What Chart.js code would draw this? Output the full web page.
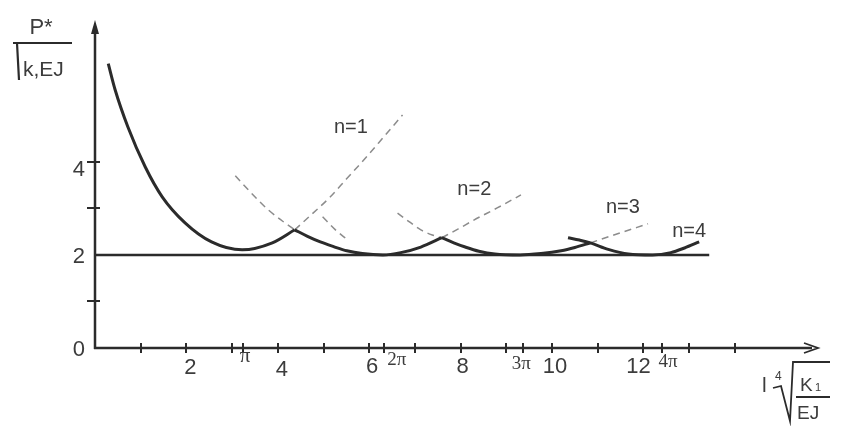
<!DOCTYPE html>
<html>
<head>
<meta charset="utf-8">
<script src="https://cdn.jsdelivr.net/npm/chart.js@4/dist/chart.umd.min.js"></script>
<style>
  body { margin: 0; background: #fff; }
  canvas { display: block; }
</style>
</head>
<body>
<canvas id="chart" width="845" height="426"></canvas>
<script>
// Values (x = l*(k1/EJ)^(1/4), y = P*/sqrt(k1 EJ))
const baseX = [0, 13.44];
const baseY = [2, 2];

// solid envelope, one piece per buckling mode
const n1SolidX = [0.29, 0.44, 0.72, 1.10, 1.47, 1.97, 2.55, 3.22, 3.88, 4.37];
const n1SolidY = [6.11, 5.55, 4.75, 3.89, 3.25, 2.69, 2.28, 2.11, 2.26, 2.54];
const n2SolidX = [4.37, 4.65, 4.93, 5.22, 5.51, 5.85, 6.30, 6.69, 7.13, 7.59];
const n2SolidY = [2.54, 2.40, 2.28, 2.18, 2.09, 2.03, 2.00, 2.05, 2.17, 2.37];
const n3SolidX = [7.59, 7.85, 8.10, 8.40, 8.75, 9.30, 9.76, 10.20, 10.50, 10.84];
const n3SolidY = [2.37, 2.26, 2.17, 2.08, 2.02, 2.00, 2.03, 2.09, 2.16, 2.26];
const n4SolidX = [10.35, 10.60, 10.84, 11.23, 11.67, 12.20, 12.60, 12.90, 13.22];
const n4SolidY = [2.37, 2.32, 2.26, 2.12, 2.02, 2.00, 2.05, 2.15, 2.28];

// dashed continuations
const n1DashX = [4.37, 4.75, 5.15, 5.50, 5.88, 6.32, 6.73];
const n1DashY = [2.54, 2.88, 3.25, 3.63, 4.04, 4.54, 5.01];
const n2DashLeftX = [3.07, 3.45, 3.79, 4.10, 4.37];
const n2DashLeftY = [3.70, 3.30, 2.97, 2.73, 2.54];
const n2DashRightX = [7.59, 7.95, 8.29, 8.80, 9.32];
const n2DashRightY = [2.37, 2.56, 2.75, 3.01, 3.29];
const n3DashShortX = [4.98, 5.25, 5.53];
const n3DashShortY = [2.82, 2.55, 2.32];
const n3DashLeftX = [6.62, 6.88, 7.13, 7.38, 7.59];
const n3DashLeftY = [2.90, 2.71, 2.54, 2.43, 2.37];
const n3DashRightX = [10.84, 11.45, 12.10];
const n3DashRightY = [2.26, 2.46, 2.67];

// axis ticks
const xTickVals = [1, 2, 3, 3.24, 4, 5, 6, 6.32, 7, 8, 9, 9.37, 10, 11, 12, 12.41, 13, 14];
const xLabelVals = [2, 3.24, 4, 6, 6.32, 8, 9.37, 10, 12, 12.41];
const xLabelText = ['2', 'π', '4', '6', '2π', '8', '3π', '10', '12', '4π'];
const yTickVals = [1, 3, 4];
const yLabelVals = [0, 2, 4];
const yLabelText = ['0', '2', '4'];

const curveLabels = ['n=1', 'n=2', 'n=3', 'n=4'];
const curveLabelX = [5.60, 8.30, 11.55, 13.00];
const curveLabelY = [4.75, 3.40, 3.02, 2.50];

const INK = '#2b2b2b';
const DASH = '#8c8c8c';
const SANS = '"Liberation Sans", Arial, sans-serif';

function pts(xs, ys) {
    return xs.map((x, i) => ({ x: x, y: ys[i] }));
}

function solid(xs, ys) {
    return {
        data: pts(xs, ys),
        showLine: true,
        borderColor: INK,
        borderWidth: 3,
        pointRadius: 0,
        cubicInterpolationMode: 'monotone',
        order: 1
    };
}

function dashed(xs, ys) {
    return {
        data: pts(xs, ys),
        showLine: true,
        borderColor: DASH,
        borderWidth: 1.5,
        borderDash: [7, 5],
        pointRadius: 0,
        cubicInterpolationMode: 'monotone',
        order: 2
    };
}

// axes, arrows, ticks and all the text are drawn here from the scales
const decor = {
    id: 'decor',
    afterDatasetsDraw(chart) {
        const ctx = chart.ctx;
        const xs = chart.scales.x;
        const ys = chart.scales.y;
        const x0 = xs.getPixelForValue(0);
        const y0 = ys.getPixelForValue(0);
        const xEnd = chart.chartArea.right;
        const yTop = chart.chartArea.top;

        ctx.save();
        ctx.strokeStyle = INK;
        ctx.fillStyle = INK;
        ctx.lineWidth = 2.5;

        // axes
        ctx.beginPath();
        ctx.moveTo(x0, y0 + 1);
        ctx.lineTo(x0, yTop + 6);
        ctx.moveTo(x0 - 1, y0);
        ctx.lineTo(xEnd - 6, y0);
        ctx.stroke();

        // arrow heads
        ctx.beginPath();
        ctx.moveTo(x0, yTop);
        ctx.lineTo(x0 - 4, yTop + 14);
        ctx.lineTo(x0 + 4, yTop + 14);
        ctx.closePath();
        ctx.fill();
        ctx.lineWidth = 1.8;
        ctx.beginPath();
        ctx.moveTo(xEnd - 14, y0 - 5);
        ctx.lineTo(xEnd, y0);
        ctx.lineTo(xEnd - 14, y0 + 5);
        ctx.stroke();

        // ticks
        ctx.lineWidth = 2;
        ctx.beginPath();
        xTickVals.forEach(v => {
            const px = Math.round(xs.getPixelForValue(v));
            ctx.moveTo(px, y0 - 5);
            ctx.lineTo(px, y0 + 5);
        });
        yTickVals.forEach(v => {
            const py = Math.round(ys.getPixelForValue(v));
            ctx.moveTo(x0 - 8, py);
            ctx.lineTo(x0 + 5, py);
        });
        ctx.stroke();

        // x tick labels: [dx, dy, size] per label, pi labels in a smaller serif
        ctx.fillStyle = '#3c3c3c';
        ctx.textAlign = 'center';
        ctx.textBaseline = 'middle';
        const place = {
            '2': [4, 20, 22], '4': [4, 22, 22], '6': [3, 19, 22], '8': [2, 19, 22],
            '10': [3, 19, 22], '12': [-5, 19, 22],
            'π': [2, 8, 21], '2π': [13, 12, 19], '3π': [-2, 16, 19], '4π': [6, 14, 19]
        };
        xLabelVals.forEach((v, i) => {
            const t = xLabelText[i];
            const s = place[t];
            const px = xs.getPixelForValue(v);
            ctx.font = s[2] + 'px ' + (t.indexOf('π') >= 0 ? '"Liberation Serif", serif' : SANS);
            ctx.fillText(t, px + s[0], y0 + s[1]);
        });

        // y tick labels
        ctx.font = '22px ' + SANS;
        ctx.textAlign = 'right';
        yLabelVals.forEach((v, i) => {
            const py = ys.getPixelForValue(v);
            ctx.fillText(yLabelText[i], x0 - 10, py + (v === 4 ? 8 : 2));
        });

        // curve labels
        ctx.font = '20px ' + SANS;
        ctx.textAlign = 'center';
        curveLabels.forEach((t, i) => {
            ctx.fillText(t, xs.getPixelForValue(curveLabelX[i]), ys.getPixelForValue(curveLabelY[i]));
        });

        // y axis title: P* over sqrt(k1 EJ)
        ctx.font = '22px ' + SANS;
        ctx.textAlign = 'center';
        ctx.textBaseline = 'alphabetic';
        ctx.fillText('P*', 41, 34);
        ctx.strokeStyle = INK;
        ctx.lineWidth = 2.2;
        ctx.beginPath();
        ctx.moveTo(13, 43);
        ctx.lineTo(72, 43);
        ctx.moveTo(17, 43);
        ctx.lineTo(19, 80);
        ctx.stroke();
        ctx.font = '21px ' + SANS;
        ctx.textAlign = 'left';
        ctx.fillText('k,EJ', 23, 76);

        // x axis title: l * fourth root of K1/EJ
        ctx.lineWidth = 1.8;
        ctx.font = '21px ' + SANS;
        ctx.fillText('l', 762, 392);
        ctx.font = '12px ' + SANS;
        ctx.fillText('4', 775, 380);
        ctx.beginPath();
        ctx.moveTo(773, 388);
        ctx.lineTo(781, 386);
        ctx.lineTo(790, 421);
        ctx.lineTo(793, 362);
        ctx.lineTo(830, 362);
        ctx.moveTo(796, 397);
        ctx.lineTo(830, 397);
        ctx.stroke();
        ctx.font = '19px ' + SANS;
        ctx.fillText('K', 800, 391);
        ctx.font = '11px ' + SANS;
        ctx.fillText('1', 815, 391);
        ctx.font = '19px ' + SANS;
        ctx.fillText('EJ', 797, 419);

        ctx.restore();
    }
};

new Chart(document.getElementById('chart'), {
    type: 'scatter',
    data: {
        datasets: [
            {
                data: pts(baseX, baseY),
                showLine: true,
                borderColor: INK,
                borderWidth: 2.5,
                pointRadius: 0,
                order: 0
            },
            solid(n1SolidX, n1SolidY),
            solid(n2SolidX, n2SolidY),
            solid(n3SolidX, n3SolidY),
            solid(n4SolidX, n4SolidY),
            dashed(n1DashX, n1DashY),
            dashed(n2DashLeftX, n2DashLeftY),
            dashed(n2DashRightX, n2DashRightY),
            dashed(n3DashShortX, n3DashShortY),
            dashed(n3DashLeftX, n3DashLeftY),
            dashed(n3DashRightX, n3DashRightY)
        ]
    },
    options: {
        responsive: false,
        animation: false,
        devicePixelRatio: 1,
        layout: { padding: { left: 95, right: 27, top: 20, bottom: 78 } },
        plugins: {
            legend: { display: false },
            tooltip: { enabled: false }
        },
        scales: {
            x: { type: 'linear', min: 0, max: 15.82, display: false },
            y: { type: 'linear', min: 0, max: 7.05, display: false }
        }
    },
    plugins: [decor]
});
</script>
</body>
</html>
